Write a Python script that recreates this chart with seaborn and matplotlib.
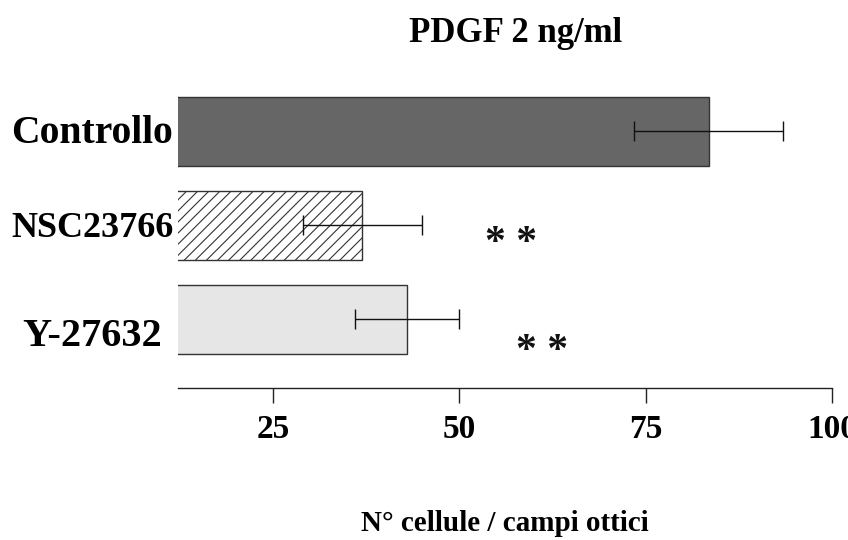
import matplotlib
matplotlib.use("Agg")
import matplotlib.pyplot as plt
import seaborn as sns
import pandas as pd

# ---- data ----
categories = ["Controllo", "NSC23766", "Y-27632"]
means = [83.5, 37.0, 43.0]
errors = [10.0, 8.0, 7.0]
bar_colors = ["#666666", "#ffffff", "#e6e6e6"]
hatches = ["", "///", ""]
x_ticks = [25, 50, 75, 100]
x_tick_labels = ["25", "50", "75", "100"]
star_text = "* *"
star_x = [57.0, 61.1]
star_rows = [1.30, 2.45]
title = "PDGF 2 ng/ml"
x_label = "N° cellule / campi ottici"

sns.set_theme(style="white")
plt.rcParams["font.family"] = ["Liberation Serif", "DejaVu Serif"]
plt.rcParams["font.weight"] = "bold"
plt.rcParams["hatch.linewidth"] = 0.8
plt.rcParams["hatch.color"] = "#222222"
plt.rcParams["text.color"] = "#000000"
plt.rcParams["xtick.color"] = "#000000"
plt.rcParams["axes.labelcolor"] = "#000000"

df = pd.DataFrame({"cat": categories, "val": means})

fig = plt.figure(figsize=(8.48, 5.4), dpi=100)
ax = fig.add_axes([0.21, 0.2815, 0.771, 0.562])

sns.barplot(data=df, y="cat", x="val", hue="cat", palette=bar_colors,
            order=categories, hue_order=categories, orient="h",
            width=0.734, edgecolor="#333333", linewidth=1.0,
            legend=False, ax=ax, errorbar=None)

for patch, h in zip(ax.patches, hatches):
    if h:
        patch.set_hatch(h)

ax.errorbar(means, list(range(len(categories))), xerr=errors, fmt="none",
            ecolor="#111111", elinewidth=1.0, capsize=7, capthick=1.0, zorder=5)

ax.set_xlim(12.3, 100)
ax.set_ylim(2.73, -0.5)

for s in ["top", "right", "left"]:
    ax.spines[s].set_visible(False)
ax.spines["bottom"].set_color("#222222")
ax.spines["bottom"].set_linewidth(1.0)

ax.set_xticks(x_ticks)
ax.set_xticklabels(x_tick_labels, fontsize=24, fontweight="bold")
ax.tick_params(axis="x", direction="out", length=11, width=1.0, color="#222222",
               pad=8, bottom=True)
ax.set_yticks([])
ax.set_ylabel("")

# category labels, centred in the left margin
label_offsets = [0.02, 0.03, 0.18]
label_sizes = [28.5, 26, 29]
for i, (c, off, fs) in enumerate(zip(categories, label_offsets, label_sizes)):
    ax.text(-0.1315, i + off, c, transform=ax.get_yaxis_transform(),
            ha="center", va="center", fontsize=fs, fontweight="bold", color="#000000")

for sx, sy in zip(star_x, star_rows):
    ax.text(sx, sy, star_text, ha="center", va="baseline", fontsize=30,
            fontweight="bold", color="#111111")

ax.set_xlabel(x_label, fontsize=21, fontweight="bold")
ax.xaxis.set_label_coords(0.5, -0.445)
ax.xaxis.label.set_va("center")

fig.text(516 / 848, 1 - 33 / 540, title, ha="center", va="center",
         fontsize=25, fontweight="bold")

fig.savefig("out.png", dpi=100)
